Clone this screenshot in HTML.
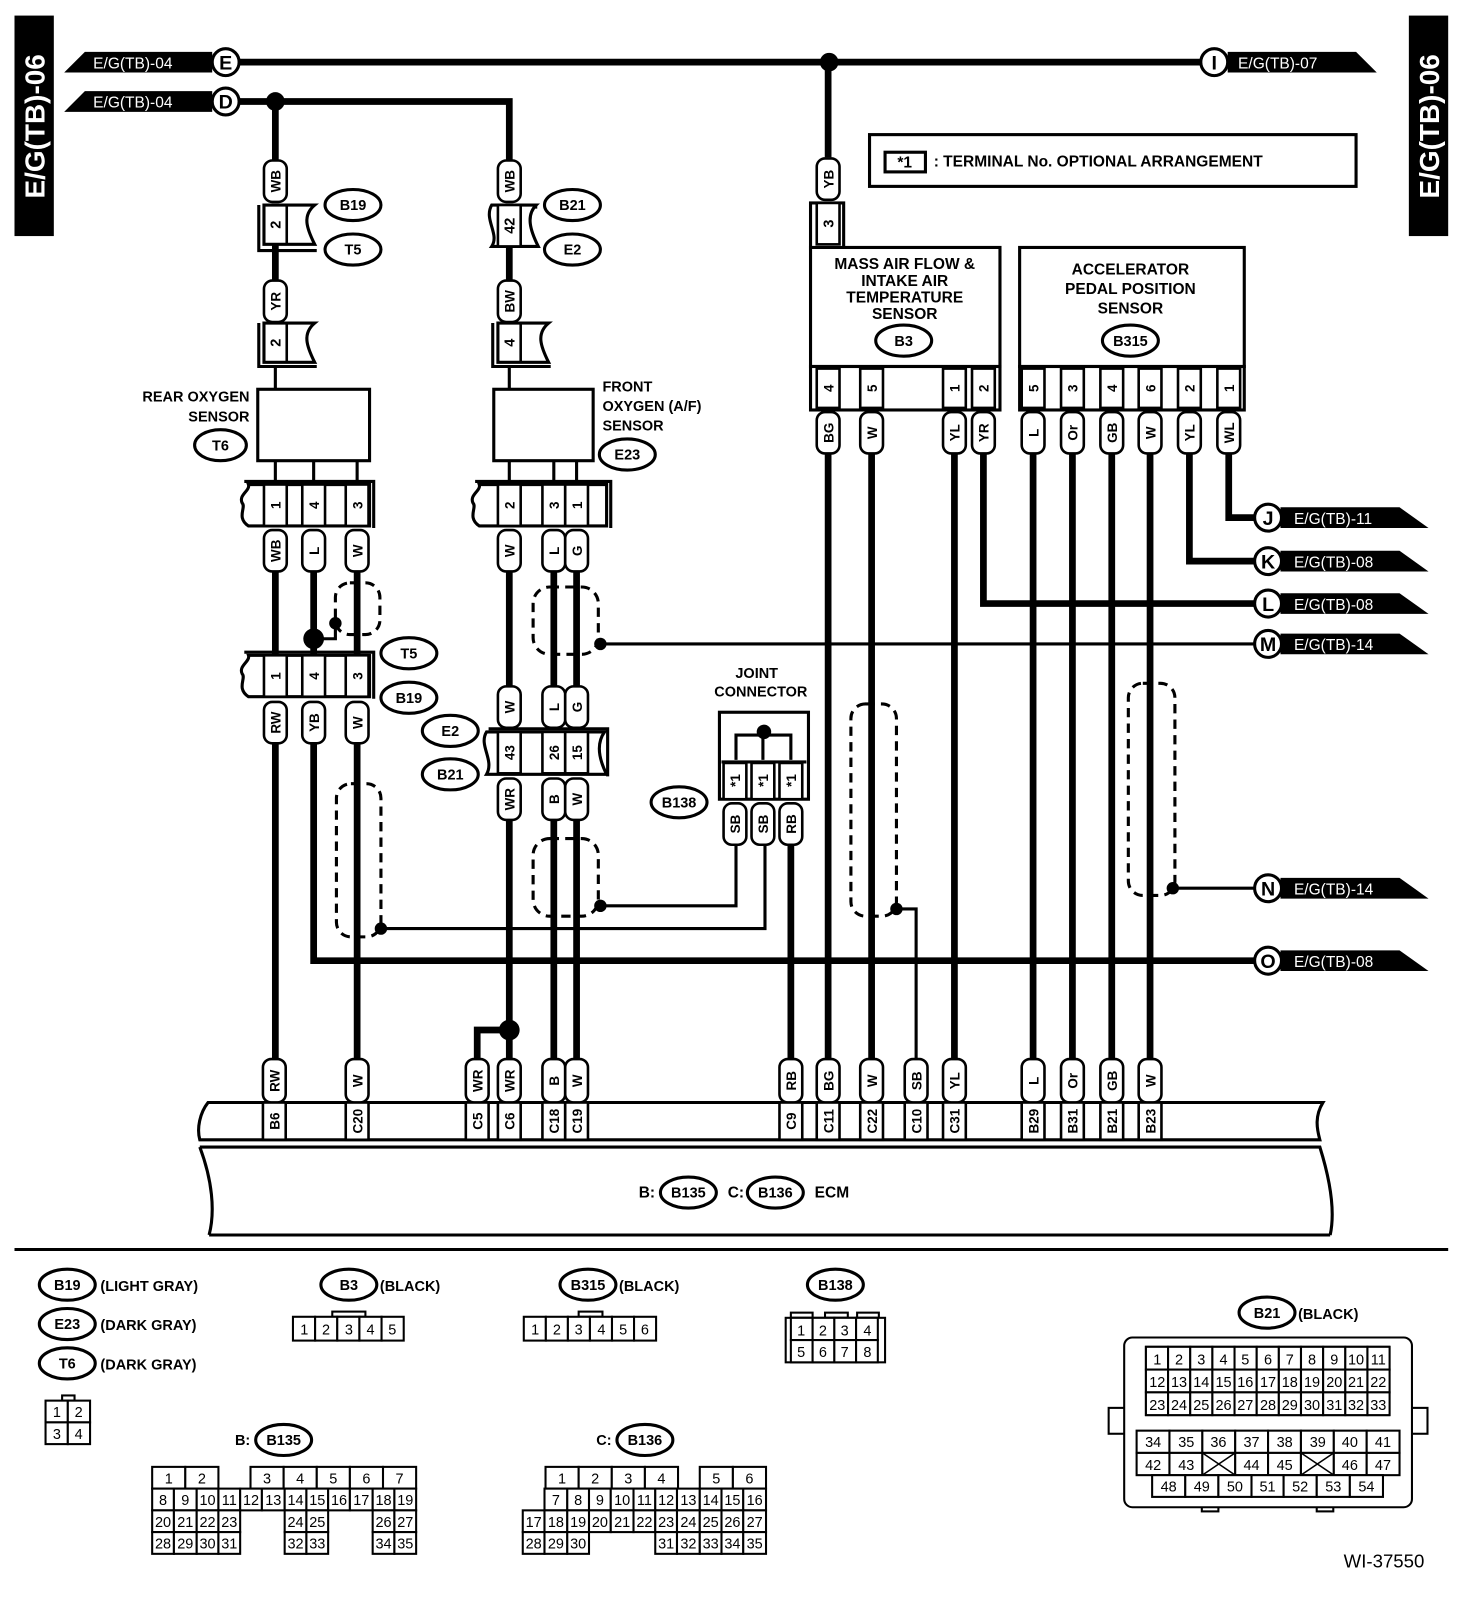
<!DOCTYPE html>
<html><head><meta charset="utf-8"><style>
html,body{margin:0;padding:0;background:#fff}
svg{display:block}
text{font-family:"Liberation Sans",sans-serif;fill:#000}
.lb rect{fill:#fff;stroke:#000;stroke-width:2.5}
.lb text,.pn text{font-weight:bold;font-size:13px;text-anchor:middle}
.pn rect{fill:#fff;stroke:#000;stroke-width:2.5}
.el ellipse{fill:#fff;stroke:#000;stroke-width:3}
.el text{font-weight:bold;font-size:14px;text-anchor:middle}
.w{stroke:#000;stroke-width:6.5;fill:none}
.t{stroke:#000;stroke-width:3;fill:none}
.sh{stroke:#000;stroke-width:3;fill:none;stroke-dasharray:9 6}
.bx{fill:#fff;stroke:#000;stroke-width:3}
.g rect{fill:#fff;stroke:#000;stroke-width:2}
.g text{font-size:14px;text-anchor:middle}
.tg{fill:#fff;font-size:15px}
.cl circle{fill:#fff;stroke:#000;stroke-width:3}
.cl text{font-weight:bold;font-size:19px;text-anchor:middle}
.bt{font-weight:bold;font-size:14px}
</style></head><body>
<svg width="1472" height="1616" viewBox="0 0 1422 1561" xmlns="http://www.w3.org/2000/svg">
<!-- side bars -->
<rect x="14" y="15" width="38" height="213" fill="#000"/>
<text transform="translate(43,122) rotate(-90)" text-anchor="middle" style="font-weight:bold;font-size:27px;fill:#fff">E/G(TB)-06</text>
<rect x="1361" y="15" width="38" height="213" fill="#000"/>
<text transform="translate(1390,122) rotate(-90)" text-anchor="middle" style="font-weight:bold;font-size:27px;fill:#fff">E/G(TB)-06</text>

<!-- top bus lines -->
<polygon points="62,70 82,50 205,50 205,70" fill="#000"/><text x="90" y="66" class="tg">E/G(TB)-04</text>
<polygon points="62,108 82,88 205,88 205,108" fill="#000"/><text x="90" y="104" class="tg">E/G(TB)-04</text>
<line class="w" x1="231" y1="60" x2="1160" y2="60"/>
<polyline class="w" points="231,98 492,98 492,155"/>
<line class="w" x1="266" y1="98" x2="266" y2="155"/>
<circle cx="266" cy="98" r="9"/>
<circle cx="801" cy="60" r="9"/>
<line class="w" x1="800" y1="60" x2="800" y2="152"/>
<g class="cl"><circle cx="218" cy="60" r="13"/><text x="218" y="67">E</text>
<circle cx="218" cy="98" r="13"/><text x="218" y="105">D</text>
<circle cx="1173" cy="60" r="13"/><text x="1173" y="67">I</text></g>
<polygon points="1186,50 1310,50 1330,70 1186,70" fill="#000"/><text x="1196" y="66" class="tg">E/G(TB)-07</text>

<!-- note box -->
<rect x="840" y="130" width="470" height="50" class="bx"/>
<rect x="855" y="147" width="39" height="19" class="bx" stroke-width="2.5"/>
<text x="874" y="162" text-anchor="middle" class="bt" style="font-size:15px">*1</text>
<text x="902" y="161" class="bt" style="font-size:15px">: TERMINAL No. OPTIONAL ARRANGEMENT</text>

<!-- ===== Rear O2 column ===== -->
<g class="lb"><g transform="translate(266,175)"><rect x="-11" y="-20" width="22" height="40" rx="8"/><text transform="rotate(-90)" y="5">WB</text></g></g>
<path class="t" d="M250,198 V242 H306" />
<path d="M255,198 H304 C292,208 296,220 304,236 H255 Z" class="bx" stroke-width="2.5"/>
<line x1="277" y1="198" x2="277" y2="236" stroke="#000" stroke-width="2.5"/>
<text transform="translate(271,217) rotate(-90)" text-anchor="middle" class="bt">2</text>
<g class="el"><ellipse cx="341" cy="198" rx="27" ry="15"/><text x="341" y="203">B19</text>
<ellipse cx="341" cy="241" rx="27" ry="15"/><text x="341" y="246">T5</text></g>
<line class="w" x1="266" y1="236" x2="266" y2="272"/>
<g class="lb"><g transform="translate(266,291)"><rect x="-11" y="-20" width="22" height="40" rx="8"/><text transform="rotate(-90)" y="5">YR</text></g></g>
<path class="t" d="M250,312 V354 H306" />
<path d="M255,312 H304 C292,322 296,334 304,350 H255 Z" class="bx" stroke-width="2.5"/>
<line x1="277" y1="312" x2="277" y2="350" stroke="#000" stroke-width="2.5"/>
<text transform="translate(271,331) rotate(-90)" text-anchor="middle" class="bt">2</text>
<line class="t" x1="266" y1="354" x2="266" y2="376"/>
<rect x="249" y="376" width="108" height="69" class="bx"/>
<text x="241" y="388" text-anchor="end" class="bt">REAR OXYGEN</text>
<text x="241" y="407" text-anchor="end" class="bt">SENSOR</text>
<g class="el"><ellipse cx="213" cy="430" rx="25" ry="15"/><text x="213" y="435">T6</text></g>
<line class="t" x1="266" y1="445" x2="266" y2="467"/><line class="t" x1="303" y1="445" x2="303" y2="467"/><line class="t" x1="345" y1="445" x2="345" y2="467"/>
<polyline class="t" points="236,465 361,465 361,510"/>
<path d="M240,468 H357 V508 H240 C228,500 238,490 234,486 C230,478 242,474 240,468 Z" class="bx" stroke-width="2.5"/>
<g class="pn">
<g transform="translate(266,488)"><rect x="-11" y="-20" width="22" height="40"/><text transform="rotate(-90)" y="5">1</text></g>
<g transform="translate(303,488)"><rect x="-11" y="-20" width="22" height="40"/><text transform="rotate(-90)" y="5">4</text></g>
<g transform="translate(345,488)"><rect x="-11" y="-20" width="22" height="40"/><text transform="rotate(-90)" y="5">3</text></g>
</g>
<g class="lb">
<g transform="translate(266,532)"><rect x="-11" y="-20" width="22" height="40" rx="8"/><text transform="rotate(-90)" y="5">WB</text></g>
<g transform="translate(303,532)"><rect x="-11" y="-20" width="22" height="40" rx="8"/><text transform="rotate(-90)" y="5">L</text></g>
<g transform="translate(345,532)"><rect x="-11" y="-20" width="22" height="40" rx="8"/><text transform="rotate(-90)" y="5">W</text></g>
</g>
<line class="w" x1="266" y1="552" x2="266" y2="632"/>
<line class="w" x1="303" y1="552" x2="303" y2="632"/>
<line class="w" x1="345" y1="552" x2="345" y2="632"/>
<rect x="324" y="563" width="43" height="50" rx="14" class="sh"/>
<circle cx="303" cy="617" r="10"/>
<polyline class="t" points="303,617 324,617 324,602"/><circle cx="324" cy="602" r="6"/>
<polyline class="t" points="236,630 361,630 361,675"/>
<path d="M240,633 H357 V673 H240 C228,665 238,655 234,651 C230,643 242,639 240,633 Z" class="bx" stroke-width="2.5"/>
<g class="pn">
<g transform="translate(266,653)"><rect x="-11" y="-20" width="22" height="40"/><text transform="rotate(-90)" y="5">1</text></g>
<g transform="translate(303,653)"><rect x="-11" y="-20" width="22" height="40"/><text transform="rotate(-90)" y="5">4</text></g>
<g transform="translate(345,653)"><rect x="-11" y="-20" width="22" height="40"/><text transform="rotate(-90)" y="5">3</text></g>
</g>
<g class="el"><ellipse cx="395" cy="631" rx="27" ry="15"/><text x="395" y="636">T5</text>
<ellipse cx="395" cy="674" rx="27" ry="15"/><text x="395" y="679">B19</text></g>
<g class="lb">
<g transform="translate(266,698)"><rect x="-11" y="-20" width="22" height="40" rx="8"/><text transform="rotate(-90)" y="5">RW</text></g>
<g transform="translate(303,698)"><rect x="-11" y="-20" width="22" height="40" rx="8"/><text transform="rotate(-90)" y="5">YB</text></g>
<g transform="translate(345,698)"><rect x="-11" y="-20" width="22" height="40" rx="8"/><text transform="rotate(-90)" y="5">W</text></g>
</g>
<line class="w" x1="266" y1="718" x2="266" y2="1022"/>
<polyline class="w" points="303,718 303,928 1213,928"/>
<line class="w" x1="345" y1="718" x2="345" y2="1022"/>
<rect x="325" y="757" width="43" height="148" rx="14" class="sh"/>
<circle cx="368" cy="897" r="6"/>
<polyline class="t" points="368,897 739,897 739,815"/>

<!-- ===== Front O2 column ===== -->
<g class="lb"><g transform="translate(492,175)"><rect x="-11" y="-20" width="22" height="40" rx="8"/><text transform="rotate(-90)" y="5">WB</text></g></g>
<path class="t" d="M474,200 H519"/>
<path d="M475,198 H518 C508,208 512,222 520,238 H475 C483,226 467,212 475,198 Z" class="bx" stroke-width="2.5"/>
<rect x="481" y="198" width="22" height="40" fill="#fff" stroke="#000" stroke-width="2.5"/>
<text transform="translate(497,218) rotate(-90)" text-anchor="middle" class="bt">42</text>
<g class="el"><ellipse cx="553" cy="198" rx="27" ry="15"/><text x="553" y="203">B21</text>
<ellipse cx="553" cy="241" rx="27" ry="15"/><text x="553" y="246">E2</text></g>
<line class="w" x1="492" y1="238" x2="492" y2="272"/>
<g class="lb"><g transform="translate(492,291)"><rect x="-11" y="-20" width="22" height="40" rx="8"/><text transform="rotate(-90)" y="5">BW</text></g></g>
<path class="t" d="M476,312 V354 H532" />
<path d="M481,312 H530 C518,322 522,334 530,350 H481 Z" class="bx" stroke-width="2.5"/>
<line x1="503" y1="312" x2="503" y2="350" stroke="#000" stroke-width="2.5"/>
<text transform="translate(497,331) rotate(-90)" text-anchor="middle" class="bt">4</text>
<line class="t" x1="492" y1="354" x2="492" y2="376"/>
<rect x="477" y="376" width="96" height="69" class="bx"/>
<text x="582" y="378" class="bt">FRONT</text>
<text x="582" y="397" class="bt">OXYGEN (A/F)</text>
<text x="582" y="416" class="bt">SENSOR</text>
<g class="el"><ellipse cx="606" cy="439" rx="27" ry="15"/><text x="606" y="444">E23</text></g>
<line class="t" x1="492" y1="445" x2="492" y2="467"/><line class="t" x1="535" y1="445" x2="535" y2="467"/><line class="t" x1="557" y1="445" x2="557" y2="467"/>
<polyline class="t" points="459,465 590,465 590,510"/>
<path d="M463,468 H586 V508 H463 C451,500 461,490 457,486 C453,478 465,474 463,468 Z" class="bx" stroke-width="2.5"/>
<g class="pn">
<g transform="translate(492,488)"><rect x="-11" y="-20" width="22" height="40"/><text transform="rotate(-90)" y="5">2</text></g>
<g transform="translate(535,488)"><rect x="-11" y="-20" width="22" height="40"/><text transform="rotate(-90)" y="5">3</text></g>
<g transform="translate(557,488)"><rect x="-11" y="-20" width="22" height="40"/><text transform="rotate(-90)" y="5">1</text></g>
</g>
<g class="lb">
<g transform="translate(492,532)"><rect x="-11" y="-20" width="22" height="40" rx="8"/><text transform="rotate(-90)" y="5">W</text></g>
<g transform="translate(535,532)"><rect x="-11" y="-20" width="22" height="40" rx="8"/><text transform="rotate(-90)" y="5">L</text></g>
<g transform="translate(557,532)"><rect x="-11" y="-20" width="22" height="40" rx="8"/><text transform="rotate(-90)" y="5">G</text></g>
</g>
<line class="w" x1="492" y1="552" x2="492" y2="663"/>
<line class="w" x1="535" y1="552" x2="535" y2="663"/>
<line class="w" x1="557" y1="552" x2="557" y2="663"/>
<rect x="515" y="567" width="63" height="65" rx="16" class="sh"/>
<circle cx="580" cy="622" r="6"/>
<line class="t" x1="580" y1="622" x2="1213" y2="622"/>
<g class="lb">
<g transform="translate(492,683)"><rect x="-11" y="-20" width="22" height="40" rx="8"/><text transform="rotate(-90)" y="5">W</text></g>
<g transform="translate(535,683)"><rect x="-11" y="-20" width="22" height="40" rx="8"/><text transform="rotate(-90)" y="5">L</text></g>
<g transform="translate(557,683)"><rect x="-11" y="-20" width="22" height="40" rx="8"/><text transform="rotate(-90)" y="5">G</text></g>
</g>
<polyline class="t" points="472,704 587,704 587,750"/>
<path d="M470,707 H584 C576,718 578,732 586,748 H470 C478,734 462,720 470,707 Z" class="bx" stroke-width="2.5"/>
<g class="pn">
<g transform="translate(492,727)"><rect x="-11" y="-20" width="22" height="40"/><text transform="rotate(-90)" y="5">43</text></g>
<g transform="translate(535,727)"><rect x="-11" y="-20" width="22" height="40"/><text transform="rotate(-90)" y="5">26</text></g>
<g transform="translate(557,727)"><rect x="-11" y="-20" width="22" height="40"/><text transform="rotate(-90)" y="5">15</text></g>
</g>
<g class="el"><ellipse cx="435" cy="706" rx="27" ry="15"/><text x="435" y="711">E2</text>
<ellipse cx="435" cy="748" rx="27" ry="15"/><text x="435" y="753">B21</text></g>
<g class="lb">
<g transform="translate(492,772)"><rect x="-11" y="-20" width="22" height="40" rx="8"/><text transform="rotate(-90)" y="5">WR</text></g>
<g transform="translate(535,772)"><rect x="-11" y="-20" width="22" height="40" rx="8"/><text transform="rotate(-90)" y="5">B</text></g>
<g transform="translate(557,772)"><rect x="-11" y="-20" width="22" height="40" rx="8"/><text transform="rotate(-90)" y="5">W</text></g>
</g>
<line class="w" x1="492" y1="792" x2="492" y2="1022"/>
<line class="w" x1="535" y1="792" x2="535" y2="1022"/>
<line class="w" x1="557" y1="792" x2="557" y2="1022"/>
<rect x="515" y="810" width="63" height="75" rx="16" class="sh"/>
<circle cx="580" cy="875" r="6"/>
<polyline class="t" points="580,875 711,875 711,815"/>
<circle cx="492" cy="995" r="10"/>
<polyline class="w" points="492,995 461,995 461,1022"/>

<!-- ===== Joint connector ===== -->
<text x="731" y="655" text-anchor="middle" class="bt">JOINT</text>
<text x="735" y="673" text-anchor="middle" class="bt">CONNECTOR</text>
<rect x="695" y="688" width="86" height="84" class="bx"/>
<polyline class="t" points="711,736 711,710 764,710 764,736"/>
<line class="t" x1="737" y1="704" x2="737" y2="736"/>
<circle cx="738" cy="707" r="7"/>
<rect x="697" y="734" width="82" height="5" fill="#fff"/>
<line class="t" x1="697" y1="736" x2="779" y2="736"/>
<g class="pn">
<g transform="translate(710,754)"><rect x="-11" y="-17" width="22" height="35"/><text transform="rotate(-90)" y="5">*1</text></g>
<g transform="translate(737,754)"><rect x="-11" y="-17" width="22" height="35"/><text transform="rotate(-90)" y="5">*1</text></g>
<g transform="translate(764,754)"><rect x="-11" y="-17" width="22" height="35"/><text transform="rotate(-90)" y="5">*1</text></g>
</g>
<g class="lb">
<g transform="translate(710,796)"><rect x="-11" y="-20" width="22" height="40" rx="8"/><text transform="rotate(-90)" y="5">SB</text></g>
<g transform="translate(737,796)"><rect x="-11" y="-20" width="22" height="40" rx="8"/><text transform="rotate(-90)" y="5">SB</text></g>
<g transform="translate(764,796)"><rect x="-11" y="-20" width="22" height="40" rx="8"/><text transform="rotate(-90)" y="5">RB</text></g>
</g>
<g class="el"><ellipse cx="656" cy="775" rx="27" ry="15"/><text x="656" y="780">B138</text></g>
<line class="w" x1="764" y1="816" x2="764" y2="1022"/>

<!-- ===== MAF sensor ===== -->
<g class="lb"><g transform="translate(800,173)"><rect x="-11" y="-20" width="22" height="40" rx="8"/><text transform="rotate(-90)" y="5">YB</text></g></g>
<rect x="783" y="196" width="32" height="44" class="bx"/>
<rect x="789" y="196" width="22" height="40" fill="#fff" stroke="#000" stroke-width="2.5"/>
<text transform="translate(805,216) rotate(-90)" text-anchor="middle" class="bt">3</text>
<rect x="783" y="239" width="183" height="115" class="bx"/>
<text x="874" y="260" text-anchor="middle" class="bt" style="font-size:15px">MASS AIR FLOW &amp;</text>
<text x="874" y="276" text-anchor="middle" class="bt" style="font-size:15px">INTAKE AIR</text>
<text x="874" y="292" text-anchor="middle" class="bt" style="font-size:15px">TEMPERATURE</text>
<text x="874" y="308" text-anchor="middle" class="bt" style="font-size:15px">SENSOR</text>
<g class="el"><ellipse cx="873" cy="329" rx="27" ry="15"/><text x="873" y="334">B3</text></g>
<rect x="783" y="354" width="183" height="42" class="bx"/>
<g class="pn">
<g transform="translate(800,375)"><rect x="-11" y="-19" width="22" height="38"/><text transform="rotate(-90)" y="5">4</text></g>
<g transform="translate(842,375)"><rect x="-11" y="-19" width="22" height="38"/><text transform="rotate(-90)" y="5">5</text></g>
<g transform="translate(922,375)"><rect x="-11" y="-19" width="22" height="38"/><text transform="rotate(-90)" y="5">1</text></g>
<g transform="translate(950,375)"><rect x="-11" y="-19" width="22" height="38"/><text transform="rotate(-90)" y="5">2</text></g>
</g>
<g class="lb">
<g transform="translate(800,418)"><rect x="-11" y="-20" width="22" height="40" rx="8"/><text transform="rotate(-90)" y="5">BG</text></g>
<g transform="translate(842,418)"><rect x="-11" y="-20" width="22" height="40" rx="8"/><text transform="rotate(-90)" y="5">W</text></g>
<g transform="translate(922,418)"><rect x="-11" y="-20" width="22" height="40" rx="8"/><text transform="rotate(-90)" y="5">YL</text></g>
<g transform="translate(950,418)"><rect x="-11" y="-20" width="22" height="40" rx="8"/><text transform="rotate(-90)" y="5">YR</text></g>
</g>
<line class="w" x1="800" y1="438" x2="800" y2="1022"/>
<line class="w" x1="842" y1="438" x2="842" y2="1022"/>
<line class="w" x1="922" y1="438" x2="922" y2="1022"/>
<polyline class="w" points="950,438 950,583 1213,583"/>
<rect x="822" y="680" width="44" height="205" rx="14" class="sh"/>
<circle cx="866" cy="878" r="6"/>
<polyline class="t" points="866,878 885,878 885,1022"/>

<!-- ===== APP sensor ===== -->
<rect x="985" y="239" width="217" height="115" class="bx"/>
<text x="1092" y="265" text-anchor="middle" class="bt" style="font-size:15px">ACCELERATOR</text>
<text x="1092" y="284" text-anchor="middle" class="bt" style="font-size:15px">PEDAL POSITION</text>
<text x="1092" y="303" text-anchor="middle" class="bt" style="font-size:15px">SENSOR</text>
<g class="el"><ellipse cx="1092" cy="329" rx="27" ry="15"/><text x="1092" y="334">B315</text></g>
<rect x="985" y="354" width="217" height="42" class="bx"/>
<g class="pn">
<g transform="translate(998,375)"><rect x="-11" y="-19" width="22" height="38"/><text transform="rotate(-90)" y="5">5</text></g>
<g transform="translate(1036,375)"><rect x="-11" y="-19" width="22" height="38"/><text transform="rotate(-90)" y="5">3</text></g>
<g transform="translate(1074,375)"><rect x="-11" y="-19" width="22" height="38"/><text transform="rotate(-90)" y="5">4</text></g>
<g transform="translate(1111,375)"><rect x="-11" y="-19" width="22" height="38"/><text transform="rotate(-90)" y="5">6</text></g>
<g transform="translate(1149,375)"><rect x="-11" y="-19" width="22" height="38"/><text transform="rotate(-90)" y="5">2</text></g>
<g transform="translate(1187,375)"><rect x="-11" y="-19" width="22" height="38"/><text transform="rotate(-90)" y="5">1</text></g>
</g>
<g class="lb">
<g transform="translate(998,418)"><rect x="-11" y="-20" width="22" height="40" rx="8"/><text transform="rotate(-90)" y="5">L</text></g>
<g transform="translate(1036,418)"><rect x="-11" y="-20" width="22" height="40" rx="8"/><text transform="rotate(-90)" y="5">Or</text></g>
<g transform="translate(1074,418)"><rect x="-11" y="-20" width="22" height="40" rx="8"/><text transform="rotate(-90)" y="5">GB</text></g>
<g transform="translate(1111,418)"><rect x="-11" y="-20" width="22" height="40" rx="8"/><text transform="rotate(-90)" y="5">W</text></g>
<g transform="translate(1149,418)"><rect x="-11" y="-20" width="22" height="40" rx="8"/><text transform="rotate(-90)" y="5">YL</text></g>
<g transform="translate(1187,418)"><rect x="-11" y="-20" width="22" height="40" rx="8"/><text transform="rotate(-90)" y="5">WL</text></g>
</g>
<line class="w" x1="998" y1="438" x2="998" y2="1022"/>
<line class="w" x1="1036" y1="438" x2="1036" y2="1022"/>
<line class="w" x1="1074" y1="438" x2="1074" y2="1022"/>
<line class="w" x1="1111" y1="438" x2="1111" y2="1022"/>
<polyline class="w" points="1149,438 1149,542 1213,542"/>
<polyline class="w" points="1187,438 1187,500 1213,500"/>
<rect x="1090" y="660" width="45" height="205" rx="14" class="sh"/>
<circle cx="1133" cy="858" r="6"/>
<line class="t" x1="1133" y1="858" x2="1213" y2="858"/>

<!-- right tags -->
<g>
<polygon points="1237,490 1352,490 1380,510 1237,510" fill="#000"/><text x="1250" y="506" class="tg">E/G(TB)-11</text>
<polygon points="1237,532 1352,532 1380,552 1237,552" fill="#000"/><text x="1250" y="548" class="tg">E/G(TB)-08</text>
<polygon points="1237,573 1352,573 1380,593 1237,593" fill="#000"/><text x="1250" y="589" class="tg">E/G(TB)-08</text>
<polygon points="1237,612 1352,612 1380,632 1237,632" fill="#000"/><text x="1250" y="628" class="tg">E/G(TB)-14</text>
<polygon points="1237,848 1352,848 1380,868 1237,868" fill="#000"/><text x="1250" y="864" class="tg">E/G(TB)-14</text>
<polygon points="1237,918 1352,918 1380,938 1237,938" fill="#000"/><text x="1250" y="934" class="tg">E/G(TB)-08</text>
</g>
<g class="cl">
<circle cx="1225" cy="500" r="13"/><text x="1225" y="507">J</text>
<circle cx="1225" cy="542" r="13"/><text x="1225" y="549">K</text>
<circle cx="1225" cy="583" r="13"/><text x="1225" y="590">L</text>
<circle cx="1225" cy="622" r="13"/><text x="1225" y="629">M</text>
<circle cx="1225" cy="858" r="13"/><text x="1225" y="865">N</text>
<circle cx="1225" cy="928" r="13"/><text x="1225" y="935">O</text>
</g>

<!-- ===== ECM ===== -->
<path class="t" d="M201,1065 H1278 C1270,1078 1272,1090 1275,1101 H193 C190,1090 193,1075 201,1065 Z" fill="#fff"/>
<path class="t" d="M193,1108 H1275 C1285,1140 1290,1170 1285,1193 M193,1108 C205,1140 208,1170 202,1193 M202,1193 H1285"/>
<g class="lb">
<g transform="translate(265,1044)"><rect x="-11" y="-21" width="22" height="42" rx="8"/><text transform="rotate(-90)" y="5">RW</text></g>
<g transform="translate(345,1044)"><rect x="-11" y="-21" width="22" height="42" rx="8"/><text transform="rotate(-90)" y="5">W</text></g>
<g transform="translate(461,1044)"><rect x="-11" y="-21" width="22" height="42" rx="8"/><text transform="rotate(-90)" y="5">WR</text></g>
<g transform="translate(492,1044)"><rect x="-11" y="-21" width="22" height="42" rx="8"/><text transform="rotate(-90)" y="5">WR</text></g>
<g transform="translate(535,1044)"><rect x="-11" y="-21" width="22" height="42" rx="8"/><text transform="rotate(-90)" y="5">B</text></g>
<g transform="translate(557,1044)"><rect x="-11" y="-21" width="22" height="42" rx="8"/><text transform="rotate(-90)" y="5">W</text></g>
<g transform="translate(764,1044)"><rect x="-11" y="-21" width="22" height="42" rx="8"/><text transform="rotate(-90)" y="5">RB</text></g>
<g transform="translate(800,1044)"><rect x="-11" y="-21" width="22" height="42" rx="8"/><text transform="rotate(-90)" y="5">BG</text></g>
<g transform="translate(842,1044)"><rect x="-11" y="-21" width="22" height="42" rx="8"/><text transform="rotate(-90)" y="5">W</text></g>
<g transform="translate(885,1044)"><rect x="-11" y="-21" width="22" height="42" rx="8"/><text transform="rotate(-90)" y="5">SB</text></g>
<g transform="translate(922,1044)"><rect x="-11" y="-21" width="22" height="42" rx="8"/><text transform="rotate(-90)" y="5">YL</text></g>
<g transform="translate(998,1044)"><rect x="-11" y="-21" width="22" height="42" rx="8"/><text transform="rotate(-90)" y="5">L</text></g>
<g transform="translate(1036,1044)"><rect x="-11" y="-21" width="22" height="42" rx="8"/><text transform="rotate(-90)" y="5">Or</text></g>
<g transform="translate(1074,1044)"><rect x="-11" y="-21" width="22" height="42" rx="8"/><text transform="rotate(-90)" y="5">GB</text></g>
<g transform="translate(1111,1044)"><rect x="-11" y="-21" width="22" height="42" rx="8"/><text transform="rotate(-90)" y="5">W</text></g>
</g>
<g class="pn">
<g transform="translate(265,1083)"><rect x="-11" y="-18" width="22" height="36"/><text transform="rotate(-90)" y="5">B6</text></g>
<g transform="translate(345,1083)"><rect x="-11" y="-18" width="22" height="36"/><text transform="rotate(-90)" y="5">C20</text></g>
<g transform="translate(461,1083)"><rect x="-11" y="-18" width="22" height="36"/><text transform="rotate(-90)" y="5">C5</text></g>
<g transform="translate(492,1083)"><rect x="-11" y="-18" width="22" height="36"/><text transform="rotate(-90)" y="5">C6</text></g>
<g transform="translate(535,1083)"><rect x="-11" y="-18" width="22" height="36"/><text transform="rotate(-90)" y="5">C18</text></g>
<g transform="translate(557,1083)"><rect x="-11" y="-18" width="22" height="36"/><text transform="rotate(-90)" y="5">C19</text></g>
<g transform="translate(764,1083)"><rect x="-11" y="-18" width="22" height="36"/><text transform="rotate(-90)" y="5">C9</text></g>
<g transform="translate(800,1083)"><rect x="-11" y="-18" width="22" height="36"/><text transform="rotate(-90)" y="5">C11</text></g>
<g transform="translate(842,1083)"><rect x="-11" y="-18" width="22" height="36"/><text transform="rotate(-90)" y="5">C22</text></g>
<g transform="translate(885,1083)"><rect x="-11" y="-18" width="22" height="36"/><text transform="rotate(-90)" y="5">C10</text></g>
<g transform="translate(922,1083)"><rect x="-11" y="-18" width="22" height="36"/><text transform="rotate(-90)" y="5">C31</text></g>
<g transform="translate(998,1083)"><rect x="-11" y="-18" width="22" height="36"/><text transform="rotate(-90)" y="5">B29</text></g>
<g transform="translate(1036,1083)"><rect x="-11" y="-18" width="22" height="36"/><text transform="rotate(-90)" y="5">B31</text></g>
<g transform="translate(1074,1083)"><rect x="-11" y="-18" width="22" height="36"/><text transform="rotate(-90)" y="5">B21</text></g>
<g transform="translate(1111,1083)"><rect x="-11" y="-18" width="22" height="36"/><text transform="rotate(-90)" y="5">B23</text></g>
</g>
<text x="617" y="1157" class="bt" style="font-size:15px">B:</text>
<text x="703" y="1157" class="bt" style="font-size:15px">C:</text>
<text x="787" y="1157" class="bt" style="font-size:15px">ECM</text>
<g class="el"><ellipse cx="665" cy="1152" rx="27" ry="15"/><text x="665" y="1157">B135</text>
<ellipse cx="749" cy="1152" rx="27" ry="15"/><text x="749" y="1157">B136</text></g>

<line x1="14" y1="1207" x2="1399" y2="1207" stroke="#000" stroke-width="3"/>

<!-- ===== Legend ===== -->
<g class="el">
<ellipse cx="65" cy="1241" rx="27" ry="15"/><text x="65" y="1246">B19</text>
<ellipse cx="65" cy="1279" rx="27" ry="15"/><text x="65" y="1284">E23</text>
<ellipse cx="65" cy="1317" rx="27" ry="15"/><text x="65" y="1322">T6</text>
<ellipse cx="337" cy="1241" rx="27" ry="15"/><text x="337" y="1246">B3</text>
<ellipse cx="568" cy="1241" rx="27" ry="15"/><text x="568" y="1246">B315</text>
<ellipse cx="807" cy="1241" rx="27" ry="15"/><text x="807" y="1246">B138</text>
<ellipse cx="1224" cy="1268" rx="27" ry="15"/><text x="1224" y="1273">B21</text>
<ellipse cx="274" cy="1391" rx="27" ry="15"/><text x="274" y="1396">B135</text>
<ellipse cx="623" cy="1391" rx="27" ry="15"/><text x="623" y="1396">B136</text>
</g>
<text x="97" y="1247" class="bt">(LIGHT GRAY)</text>
<text x="97" y="1285" class="bt">(DARK GRAY)</text>
<text x="97" y="1323" class="bt">(DARK GRAY)</text>
<text x="367" y="1247" class="bt">(BLACK)</text>
<text x="598" y="1247" class="bt">(BLACK)</text>
<text x="1254" y="1274" class="bt">(BLACK)</text>
<text x="227" y="1396" class="bt">B:</text>
<text x="576" y="1396" class="bt">C:</text>
<text x="1298" y="1514" style="font-size:18px">WI-37550</text>

<g class="g">
<!-- T6 -->
<rect x="60" y="1348" width="12" height="5"/>
<rect x="44" y="1353" width="21.5" height="21"/><text x="55" y="1369">1</text>
<rect x="65.5" y="1353" width="21.5" height="21"/><text x="76" y="1369">2</text>
<rect x="44" y="1374" width="21.5" height="21"/><text x="55" y="1390">3</text>
<rect x="65.5" y="1374" width="21.5" height="21"/><text x="76" y="1390">4</text>
<!-- B3 -->
<rect x="321" y="1267" width="32" height="5"/>
<rect x="283" y="1272" width="21.4" height="23"/><text x="294" y="1289">1</text>
<rect x="304.4" y="1272" width="21.4" height="23"/><text x="315" y="1289">2</text>
<rect x="325.8" y="1272" width="21.4" height="23"/><text x="337" y="1289">3</text>
<rect x="347.2" y="1272" width="21.4" height="23"/><text x="358" y="1289">4</text>
<rect x="368.6" y="1272" width="21.4" height="23"/><text x="379" y="1289">5</text>
<!-- B315 -->
<rect x="559" y="1267" width="23" height="5"/>
<rect x="506" y="1272" width="21.3" height="23"/><text x="517" y="1289">1</text>
<rect x="527.3" y="1272" width="21.3" height="23"/><text x="538" y="1289">2</text>
<rect x="548.6" y="1272" width="21.3" height="23"/><text x="559" y="1289">3</text>
<rect x="569.9" y="1272" width="21.3" height="23"/><text x="581" y="1289">4</text>
<rect x="591.2" y="1272" width="21.3" height="23"/><text x="602" y="1289">5</text>
<rect x="612.5" y="1272" width="21.3" height="23"/><text x="623" y="1289">6</text>
<!-- B138 -->
<rect x="764" y="1268" width="21" height="5"/><rect x="797" y="1268" width="22" height="5"/><rect x="828" y="1268" width="21" height="5"/>
<rect x="759" y="1273" width="96" height="43"/>
<rect x="764" y="1273" width="21" height="21.5"/><text x="774" y="1290">1</text>
<rect x="785" y="1273" width="21" height="21.5"/><text x="795" y="1290">2</text>
<rect x="806" y="1273" width="21" height="21.5"/><text x="816" y="1290">3</text>
<rect x="827" y="1273" width="21" height="21.5"/><text x="838" y="1290">4</text>
<rect x="764" y="1294.5" width="21" height="21.5"/><text x="774" y="1311">5</text>
<rect x="785" y="1294.5" width="21" height="21.5"/><text x="795" y="1311">6</text>
<rect x="806" y="1294.5" width="21" height="21.5"/><text x="816" y="1311">7</text>
<rect x="827" y="1294.5" width="21" height="21.5"/><text x="838" y="1311">8</text>
</g>

<!-- B135 grid -->
<g class="g">
<rect x="147" y="1417" width="32" height="21"/><text x="163" y="1433">1</text>
<rect x="179" y="1417" width="32" height="21"/><text x="195" y="1433">2</text>
<rect x="242" y="1417" width="32" height="21"/><text x="258" y="1433">3</text>
<rect x="274" y="1417" width="32" height="21"/><text x="290" y="1433">4</text>
<rect x="306" y="1417" width="32" height="21"/><text x="322" y="1433">5</text>
<rect x="338" y="1417" width="32" height="21"/><text x="354" y="1433">6</text>
<rect x="370" y="1417" width="32" height="21"/><text x="386" y="1433">7</text>
<rect x="147" y="1438" width="21" height="21"/><text x="157.5" y="1454">8</text>
<rect x="168" y="1438" width="22" height="21"/><text x="179" y="1454">9</text>
<rect x="190" y="1438" width="21" height="21"/><text x="200.5" y="1454">10</text>
<rect x="211" y="1438" width="21" height="21"/><text x="221.5" y="1454">11</text>
<rect x="232" y="1438" width="21" height="21"/><text x="242.5" y="1454">12</text>
<rect x="253" y="1438" width="22" height="21"/><text x="264" y="1454">13</text>
<rect x="275" y="1438" width="21" height="21"/><text x="285.5" y="1454">14</text>
<rect x="296" y="1438" width="21" height="21"/><text x="306.5" y="1454">15</text>
<rect x="317" y="1438" width="21" height="21"/><text x="327.5" y="1454">16</text>
<rect x="338" y="1438" width="22" height="21"/><text x="349" y="1454">17</text>
<rect x="360" y="1438" width="21" height="21"/><text x="370.5" y="1454">18</text>
<rect x="381" y="1438" width="21" height="21"/><text x="391.5" y="1454">19</text>
<rect x="147" y="1459" width="21" height="21"/><text x="157.5" y="1475">20</text>
<rect x="168" y="1459" width="22" height="21"/><text x="179" y="1475">21</text>
<rect x="190" y="1459" width="21" height="21"/><text x="200.5" y="1475">22</text>
<rect x="211" y="1459" width="21" height="21"/><text x="221.5" y="1475">23</text>
<rect x="275" y="1459" width="21" height="21"/><text x="285.5" y="1475">24</text>
<rect x="296" y="1459" width="21" height="21"/><text x="306.5" y="1475">25</text>
<rect x="360" y="1459" width="21" height="21"/><text x="370.5" y="1475">26</text>
<rect x="381" y="1459" width="21" height="21"/><text x="391.5" y="1475">27</text>
<rect x="147" y="1480" width="21" height="21"/><text x="157.5" y="1496">28</text>
<rect x="168" y="1480" width="22" height="21"/><text x="179" y="1496">29</text>
<rect x="190" y="1480" width="21" height="21"/><text x="200.5" y="1496">30</text>
<rect x="211" y="1480" width="21" height="21"/><text x="221.5" y="1496">31</text>
<rect x="275" y="1480" width="21" height="21"/><text x="285.5" y="1496">32</text>
<rect x="296" y="1480" width="21" height="21"/><text x="306.5" y="1496">33</text>
<rect x="360" y="1480" width="21" height="21"/><text x="370.5" y="1496">34</text>
<rect x="381" y="1480" width="21" height="21"/><text x="391.5" y="1496">35</text>
</g>

<!-- B136 grid -->
<g class="g">
<rect x="527" y="1417" width="32" height="21"/><text x="543" y="1433">1</text>
<rect x="559" y="1417" width="32" height="21"/><text x="575" y="1433">2</text>
<rect x="591" y="1417" width="32" height="21"/><text x="607" y="1433">3</text>
<rect x="623" y="1417" width="32" height="21"/><text x="639" y="1433">4</text>
<rect x="676" y="1417" width="32" height="21"/><text x="692" y="1433">5</text>
<rect x="708" y="1417" width="32" height="21"/><text x="724" y="1433">6</text>
<rect x="526" y="1438" width="22" height="21"/><text x="537" y="1454">7</text>
<rect x="548" y="1438" width="21" height="21"/><text x="558.5" y="1454">8</text>
<rect x="569" y="1438" width="21" height="21"/><text x="579.5" y="1454">9</text>
<rect x="590" y="1438" width="22" height="21"/><text x="601" y="1454">10</text>
<rect x="612" y="1438" width="21" height="21"/><text x="622.5" y="1454">11</text>
<rect x="633" y="1438" width="21" height="21"/><text x="643.5" y="1454">12</text>
<rect x="654" y="1438" width="22" height="21"/><text x="665" y="1454">13</text>
<rect x="676" y="1438" width="21" height="21"/><text x="686.5" y="1454">14</text>
<rect x="697" y="1438" width="21" height="21"/><text x="707.5" y="1454">15</text>
<rect x="718" y="1438" width="22" height="21"/><text x="729" y="1454">16</text>
<rect x="505" y="1459" width="21" height="21"/><text x="515.5" y="1475">17</text>
<rect x="526" y="1459" width="22" height="21"/><text x="537" y="1475">18</text>
<rect x="548" y="1459" width="21" height="21"/><text x="558.5" y="1475">19</text>
<rect x="569" y="1459" width="21" height="21"/><text x="579.5" y="1475">20</text>
<rect x="590" y="1459" width="22" height="21"/><text x="601" y="1475">21</text>
<rect x="612" y="1459" width="21" height="21"/><text x="622.5" y="1475">22</text>
<rect x="633" y="1459" width="21" height="21"/><text x="643.5" y="1475">23</text>
<rect x="654" y="1459" width="22" height="21"/><text x="665" y="1475">24</text>
<rect x="676" y="1459" width="21" height="21"/><text x="686.5" y="1475">25</text>
<rect x="697" y="1459" width="21" height="21"/><text x="707.5" y="1475">26</text>
<rect x="718" y="1459" width="22" height="21"/><text x="729" y="1475">27</text>
<rect x="505" y="1480" width="21" height="21"/><text x="515.5" y="1496">28</text>
<rect x="526" y="1480" width="22" height="21"/><text x="537" y="1496">29</text>
<rect x="548" y="1480" width="21" height="21"/><text x="558.5" y="1496">30</text>
<rect x="633" y="1480" width="21" height="21"/><text x="643.5" y="1496">31</text>
<rect x="654" y="1480" width="22" height="21"/><text x="665" y="1496">32</text>
<rect x="676" y="1480" width="21" height="21"/><text x="686.5" y="1496">33</text>
<rect x="697" y="1480" width="21" height="21"/><text x="707.5" y="1496">34</text>
<rect x="718" y="1480" width="22" height="21"/><text x="729" y="1496">35</text>
</g>

<!-- B21 big connector -->
<g class="g">
<rect x="1071" y="1360" width="17" height="25"/><rect x="1362" y="1360" width="17" height="25"/>
<rect x="1161" y="1450" width="16" height="10"/><rect x="1272" y="1450" width="16" height="10"/>
<rect x="1086" y="1292" width="278" height="164" rx="8" stroke-width="2.5"/>
<rect x="1107" y="1301" width="235" height="66"/>
</g>
<g class="g">
<rect x="1107" y="1301" width="21.4" height="22"/><text x="1118" y="1318">1</text>
<rect x="1128.4" y="1301" width="21.4" height="22"/><text x="1139" y="1318">2</text>
<rect x="1149.8" y="1301" width="21.4" height="22"/><text x="1160.5" y="1318">3</text>
<rect x="1171.2" y="1301" width="21.4" height="22"/><text x="1182" y="1318">4</text>
<rect x="1192.6" y="1301" width="21.4" height="22"/><text x="1203" y="1318">5</text>
<rect x="1214" y="1301" width="21.4" height="22"/><text x="1225" y="1318">6</text>
<rect x="1235.4" y="1301" width="21.4" height="22"/><text x="1246" y="1318">7</text>
<rect x="1256.8" y="1301" width="21.4" height="22"/><text x="1267.5" y="1318">8</text>
<rect x="1278.2" y="1301" width="21.4" height="22"/><text x="1289" y="1318">9</text>
<rect x="1299.6" y="1301" width="21.4" height="22"/><text x="1310" y="1318">10</text>
<rect x="1321" y="1301" width="21.4" height="22"/><text x="1331.5" y="1318">11</text>
<rect x="1107" y="1323" width="21.4" height="22"/><text x="1118" y="1340">12</text>
<rect x="1128.4" y="1323" width="21.4" height="22"/><text x="1139" y="1340">13</text>
<rect x="1149.8" y="1323" width="21.4" height="22"/><text x="1160.5" y="1340">14</text>
<rect x="1171.2" y="1323" width="21.4" height="22"/><text x="1182" y="1340">15</text>
<rect x="1192.6" y="1323" width="21.4" height="22"/><text x="1203" y="1340">16</text>
<rect x="1214" y="1323" width="21.4" height="22"/><text x="1225" y="1340">17</text>
<rect x="1235.4" y="1323" width="21.4" height="22"/><text x="1246" y="1340">18</text>
<rect x="1256.8" y="1323" width="21.4" height="22"/><text x="1267.5" y="1340">19</text>
<rect x="1278.2" y="1323" width="21.4" height="22"/><text x="1289" y="1340">20</text>
<rect x="1299.6" y="1323" width="21.4" height="22"/><text x="1310" y="1340">21</text>
<rect x="1321" y="1323" width="21.4" height="22"/><text x="1331.5" y="1340">22</text>
<rect x="1107" y="1345" width="21.4" height="22"/><text x="1118" y="1362">23</text>
<rect x="1128.4" y="1345" width="21.4" height="22"/><text x="1139" y="1362">24</text>
<rect x="1149.8" y="1345" width="21.4" height="22"/><text x="1160.5" y="1362">25</text>
<rect x="1171.2" y="1345" width="21.4" height="22"/><text x="1182" y="1362">26</text>
<rect x="1192.6" y="1345" width="21.4" height="22"/><text x="1203" y="1362">27</text>
<rect x="1214" y="1345" width="21.4" height="22"/><text x="1225" y="1362">28</text>
<rect x="1235.4" y="1345" width="21.4" height="22"/><text x="1246" y="1362">29</text>
<rect x="1256.8" y="1345" width="21.4" height="22"/><text x="1267.5" y="1362">30</text>
<rect x="1278.2" y="1345" width="21.4" height="22"/><text x="1289" y="1362">31</text>
<rect x="1299.6" y="1345" width="21.4" height="22"/><text x="1310" y="1362">32</text>
<rect x="1321" y="1345" width="21.4" height="22"/><text x="1331.5" y="1362">33</text>

<rect x="1098" y="1382" width="31.75" height="21.5"/><text x="1114" y="1398">34</text>
<rect x="1129.75" y="1382" width="31.75" height="21.5"/><text x="1146" y="1398">35</text>
<rect x="1161.5" y="1382" width="31.75" height="21.5"/><text x="1177" y="1398">36</text>
<rect x="1193.25" y="1382" width="31.75" height="21.5"/><text x="1209" y="1398">37</text>
<rect x="1225" y="1382" width="31.75" height="21.5"/><text x="1241" y="1398">38</text>
<rect x="1256.75" y="1382" width="31.75" height="21.5"/><text x="1273" y="1398">39</text>
<rect x="1288.5" y="1382" width="31.75" height="21.5"/><text x="1304" y="1398">40</text>
<rect x="1320.25" y="1382" width="31.75" height="21.5"/><text x="1336" y="1398">41</text>
<rect x="1098" y="1403.5" width="31.75" height="21.5"/><text x="1114" y="1420">42</text>
<rect x="1129.75" y="1403.5" width="31.75" height="21.5"/><text x="1146" y="1420">43</text>
<rect x="1161.5" y="1403.5" width="31.75" height="21.5"/>
<rect x="1193.25" y="1403.5" width="31.75" height="21.5"/><text x="1209" y="1420">44</text>
<rect x="1225" y="1403.5" width="31.75" height="21.5"/><text x="1241" y="1420">45</text>
<rect x="1256.75" y="1403.5" width="31.75" height="21.5"/>
<rect x="1288.5" y="1403.5" width="31.75" height="21.5"/><text x="1304" y="1420">46</text>
<rect x="1320.25" y="1403.5" width="31.75" height="21.5"/><text x="1336" y="1420">47</text>
<rect x="1113" y="1425" width="32" height="21"/><text x="1129" y="1441">48</text>
<rect x="1145" y="1425" width="32" height="21"/><text x="1161" y="1441">49</text>
<rect x="1177" y="1425" width="32" height="21"/><text x="1193" y="1441">50</text>
<rect x="1209" y="1425" width="31" height="21"/><text x="1224.5" y="1441">51</text>
<rect x="1240" y="1425" width="32" height="21"/><text x="1256" y="1441">52</text>
<rect x="1272" y="1425" width="32" height="21"/><text x="1288" y="1441">53</text>
<rect x="1304" y="1425" width="32" height="21"/><text x="1320" y="1441">54</text>
</g>
<path d="M1161.5,1403.5 L1193.25,1425 M1193.25,1403.5 L1161.5,1425 M1256.75,1403.5 L1288.5,1425 M1288.5,1403.5 L1256.75,1425" stroke="#000" stroke-width="1.5"/>
</svg>
</body></html>
